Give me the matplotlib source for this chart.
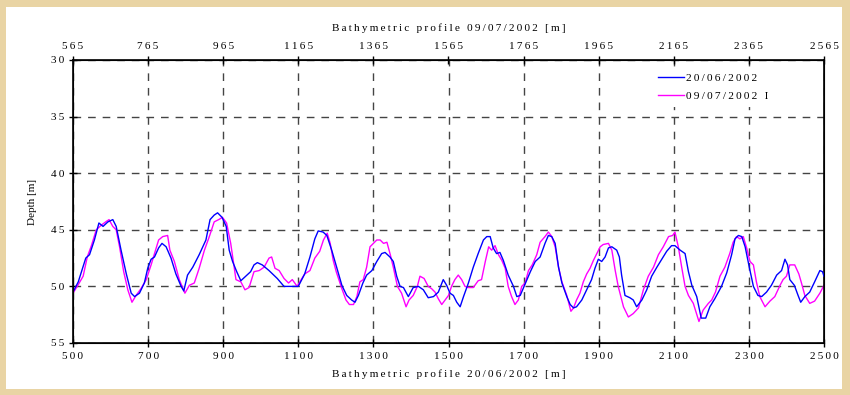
import matplotlib
matplotlib.use('Agg')
from matplotlib import pyplot as plt
from matplotlib.patches import Rectangle

# profile 20/06/2002 (distance along profile [m], depth [m])
x_jun = [500, 514, 534, 544, 557, 569, 580, 593, 606, 615, 628, 642, 655, 664, 677, 690,
         699, 708, 717, 728, 737, 748, 761, 774, 788, 795, 805, 819, 836, 854, 865, 876,
         885, 897, 908, 916, 925, 936, 947, 960, 973, 982, 991, 1004, 1022, 1044, 1062,
         1084, 1100, 1117, 1131, 1144, 1153, 1166, 1176, 1189, 1202, 1216, 1229, 1242,
         1251, 1260, 1272, 1282, 1296, 1309, 1322, 1331, 1344, 1353, 1362, 1371, 1380,
         1393, 1406, 1420, 1433, 1446, 1460, 1473, 1486, 1495, 1504, 1513, 1522, 1531,
         1540, 1553, 1566, 1579, 1593, 1602, 1611, 1619, 1628, 1637, 1646, 1659, 1673,
         1682, 1691, 1705, 1718, 1731, 1744, 1757, 1766, 1775, 1784, 1793, 1802, 1815,
         1824, 1833, 1841, 1855, 1868, 1881, 1890, 1899, 1908, 1917, 1926, 1935, 1948,
         1955, 1961, 1970, 1983, 1992, 2001, 2015, 2028, 2041, 2055, 2068, 2081, 2094,
         2103, 2117, 2130, 2139, 2148, 2161, 2173, 2185, 2196, 2209, 2227, 2241, 2254,
         2263, 2272, 2281, 2290, 2301, 2312, 2324, 2334, 2347, 2360, 2374, 2387, 2396,
         2403, 2409, 2421, 2431, 2438, 2449, 2462, 2475, 2489, 2496, 2500]
d_jun = [50.5, 49.6, 47.5, 47.2, 45.9, 44.4, 44.7, 44.3, 44.1, 44.7, 46.8, 48.9, 50.6, 50.9,
         50.6, 49.7, 48.4, 47.6, 47.4, 46.6, 46.2, 46.5, 47.5, 48.9, 50.0, 50.4, 49.0, 48.3,
         47.2, 45.9, 44.1, 43.7, 43.5, 43.9, 44.7, 46.8, 47.8, 48.7, 49.5, 49.1, 48.7, 48.1,
         47.9, 48.1, 48.6, 49.3, 50.0, 50.0, 50.0, 48.9, 47.4, 45.8, 45.1, 45.2, 45.5, 46.8,
         48.3, 49.9, 50.8, 51.2, 51.4, 50.8, 49.7, 49.0, 48.6, 47.8, 47.1, 47.0, 47.4, 47.8,
         49.1, 50.0, 50.1, 50.9, 50.1, 50.0, 50.3, 51.0, 50.9, 50.5, 49.4, 49.9, 50.6, 50.8,
         51.4, 51.8, 50.9, 49.7, 48.3, 47.1, 45.9, 45.6, 45.6, 46.6, 47.1, 47.0, 47.7, 49.0,
         50.0, 50.9, 50.8, 49.7, 48.7, 47.8, 47.4, 46.2, 45.5, 45.6, 46.2, 48.3, 49.7, 50.9,
         51.6, 51.9, 51.8, 51.2, 50.3, 49.4, 48.4, 47.6, 47.8, 47.4, 46.6, 46.5, 46.8, 47.4,
         49.0, 50.8, 51.0, 51.2, 51.8, 51.2, 50.3, 49.1, 48.3, 47.6, 46.9, 46.4, 46.4, 46.8,
         47.1, 48.7, 49.9, 50.9, 52.8, 52.8, 51.8, 51.1, 50.0, 48.8, 47.2, 45.8, 45.5, 45.6,
         46.5, 48.3, 50.0, 50.8, 50.9, 50.5, 49.9, 49.0, 48.6, 47.6, 48.1, 49.4, 49.9, 50.8,
         51.4, 50.9, 50.5, 49.6, 48.6, 48.7, 49.1]

# profile 09/07/2002 I
x_jul = [500, 513, 527, 538, 549, 562, 575, 587, 596, 606, 615, 624, 635, 646, 657, 668,
         681, 695, 708, 719, 728, 739, 752, 758, 770, 783, 798, 810, 823, 836, 850, 863,
         876, 888, 898, 909, 920, 934, 947, 958, 969, 982, 996, 1009, 1022, 1029, 1038,
         1049, 1062, 1074, 1084, 1097, 1104, 1117, 1131, 1144, 1157, 1167, 1177, 1185,
         1193, 1201, 1207, 1216, 1227, 1236, 1247, 1256, 1264, 1273, 1282, 1291, 1300,
         1309, 1318, 1327, 1336, 1345, 1353, 1364, 1375, 1387, 1395, 1406, 1417, 1424,
         1435, 1446, 1455, 1464, 1473, 1482, 1491, 1500, 1508, 1517, 1526, 1535, 1544,
         1553, 1566, 1579, 1588, 1598, 1607, 1615, 1624, 1633, 1642, 1651, 1659, 1668,
         1677, 1686, 1695, 1704, 1713, 1723, 1735, 1744, 1757, 1766, 1775, 1784, 1793,
         1802, 1815, 1826, 1833, 1841, 1850, 1859, 1868, 1877, 1886, 1895, 1904, 1912,
         1926, 1935, 1944, 1952, 1966, 1979, 1992, 2006, 2019, 2032, 2046, 2059, 2072,
         2086, 2097, 2103, 2112, 2121, 2130, 2139, 2152, 2167, 2178, 2192, 2201, 2211,
         2223, 2236, 2249, 2258, 2267, 2276, 2285, 2294, 2303, 2312, 2320, 2329, 2343,
         2356, 2369, 2383, 2391, 2400, 2409, 2422, 2433, 2440, 2449, 2462, 2475, 2489,
         2500]
d_jul = [50.6, 49.9, 49.1, 47.4, 46.4, 45.0, 44.6, 44.3, 44.1, 44.7, 45.0, 46.5, 48.7, 50.3,
         51.4, 50.8, 50.2, 49.4, 48.1, 46.9, 45.9, 45.6, 45.5, 46.8, 47.8, 49.4, 50.6, 49.9,
         49.7, 48.4, 46.8, 45.6, 44.3, 44.1, 43.9, 44.4, 46.2, 49.4, 49.6, 50.3, 50.1, 48.7,
         48.6, 48.3, 47.5, 47.4, 48.4, 48.6, 49.3, 49.7, 49.4, 50.0, 49.6, 48.9, 48.6, 47.5,
         46.9, 45.9, 45.3, 46.2, 47.7, 48.7, 49.3, 50.2, 51.2, 51.6, 51.6, 50.9, 49.6, 49.4,
         48.3, 46.5, 46.2, 45.9, 45.9, 46.2, 46.1, 47.2, 48.3, 50.0, 50.6, 51.8, 51.2, 50.8,
         50.0, 49.1, 49.3, 50.0, 50.2, 50.5, 51.1, 51.6, 51.2, 50.8, 50.0, 49.4, 49.0, 49.4,
         50.0, 50.1, 50.1, 49.5, 49.4, 47.8, 46.5, 46.8, 46.4, 47.2, 47.7, 48.4, 50.0, 50.9,
         51.6, 51.2, 50.0, 49.7, 48.6, 48.1, 47.2, 46.1, 45.6, 45.2, 45.6, 46.5, 48.3, 49.6,
         50.8, 52.2, 51.9, 51.2, 50.6, 49.6, 48.9, 48.4, 47.7, 47.1, 46.5, 46.3, 46.2, 46.8,
         48.6, 50.0, 51.8, 52.7, 52.4, 51.9, 50.3, 49.1, 48.3, 47.2, 46.5, 45.6, 45.5, 45.2,
         46.5, 48.3, 50.0, 50.8, 51.5, 53.1, 52.1, 51.5, 51.2, 50.5, 49.1, 48.3, 47.1, 46.1,
         45.6, 45.8, 45.6, 46.6, 47.8, 48.1, 49.6, 50.9, 51.8, 51.3, 50.9, 49.9, 49.4, 49.1,
         48.1, 48.1, 48.9, 49.7, 50.8, 51.5, 51.3, 50.6, 49.9]

bottom_ticks = list(range(500, 2501, 200))
top_ticks = list(range(565, 2566, 200))
depth_ticks = [30, 35, 40, 45, 50, 55]


def spaced(s):
    # the original chart uses wide letter spacing
    return '\u2009'.join(str(s))


serif = ['Liberation Serif', 'DejaVu Serif']
plt.rcParams['font.family'] = serif

fig = plt.figure(figsize=(8.5, 3.95), dpi=100, facecolor='#e9d4a4')
# white sheet behind the chart
fig.patches.append(Rectangle((6 / 850, 1 - 389 / 395), 836 / 850, 382 / 395,
                             transform=fig.transFigure, facecolor='white',
                             edgecolor='none', zorder=-10))

ax = fig.add_axes([73 / 850, 1 - 343 / 395, 751 / 850, 283 / 395])
ax.plot(x_jun, d_jun, color='#0000ff', lw=1.0, label=spaced('20/06/2002'), zorder=3)
ax.plot(x_jul, d_jul, color='#ff00ff', lw=1.0, label=spaced('09/07/2002 I'), zorder=2)

ax.set_xlim(500, 2500)
ax.set_ylim(55, 30)
ax.set_xticks(bottom_ticks, [spaced(t) for t in bottom_ticks])
ax.set_yticks(depth_ticks, [spaced(t) for t in depth_ticks])
ax.tick_params(direction='inout', length=6, width=1, labelsize=8, colors='black')
ax.grid(True, color='#444444', lw=1, linestyle=(0, (5.5, 5)))
for sp in ax.spines.values():
    sp.set_linewidth(1.2)
ax.set_xlabel(spaced('Bathymetric profile 20/06/2002 [m]'), fontsize=8, labelpad=6)
ax.set_ylabel('Depth [m]', fontsize=8, labelpad=10)

top = ax.twiny()
top.set_xlim(565, 2565)
top.set_xticks(top_ticks, [spaced(t) for t in top_ticks])
top.tick_params(direction='inout', length=6, width=1, labelsize=8)
top.set_xlabel(spaced('Bathymetric profile 09/07/2002 [m]'), fontsize=8, labelpad=8)

# legend sits on a white box that hides the grid behind it
leg = ax.legend(loc='upper left', bbox_to_anchor=(0.772, 0.975), borderaxespad=0,
                frameon=True, fancybox=False, framealpha=1, facecolor='white',
                edgecolor='none', fontsize=8.2, handlelength=2.2, handletextpad=0.2,
                labelspacing=0.75, borderpad=0.5)
leg.set_zorder(5)

fig.savefig('out.png', dpi=100, facecolor=fig.get_facecolor())
